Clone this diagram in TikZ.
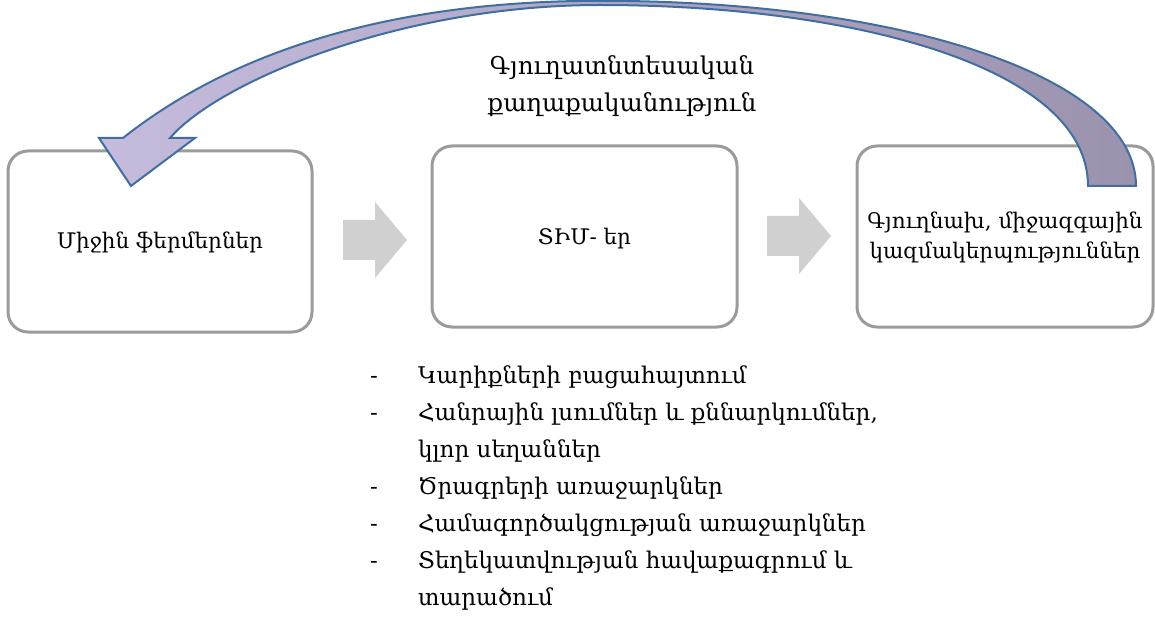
\documentclass[tikz,border=0pt]{standalone}
\usepackage{fontspec}
\setmainfont{DejaVu Serif}
\definecolor{boxgray}{RGB}{155,155,155}
\definecolor{arrgray}{RGB}{208,208,208}
\definecolor{bandline}{RGB}{65,110,160}
\definecolor{bandleft}{RGB}{197,187,220}
\definecolor{bandright}{RGB}{155,146,174}
\tikzset{
  stagebox/.style={draw=boxgray, line width=3pt, rounded corners=20pt, fill=white},
  flowarrow/.style={fill=arrgray, draw=none},
  lbl/.style={font=\fontsize{21.5}{30}\selectfont, align=center, inner sep=0pt},
  ttl/.style={font=\fontsize{24.5}{37}\selectfont, align=center, inner sep=0pt},
  item/.style={font=\fontsize{23}{28}\selectfont, anchor=base west, inner sep=0pt},
}
\begin{document}
\begin{tikzpicture}[x=1pt,y=-1pt]
\useasboundingbox (0,0) rectangle (1155,617);
% boxes
\draw[stagebox] (8,151) rectangle (312,332);
\draw[stagebox] (432,146) rectangle (737,327);
\draw[stagebox] (857,146) rectangle (1153,327);
\node[lbl] (b1) at (160,242) {Միջին ֆերմերներ};
\node[lbl] (b2) at (584.5,239) {ՏԻՄ- եր};
\node[lbl] (b3) at (1005,237) {Գյուղնախ, միջազգային\\կազմակերպություններ};
% gray block arrows
\fill[flowarrow] (343,220) -- (375,220) -- (375,202) -- (407,240) -- (375,278) -- (375,260) -- (343,260) -- cycle;
\fill[flowarrow] (767,216) -- (799,216) -- (799,198) -- (831,236) -- (799,274) -- (799,256) -- (767,256) -- cycle;
% title
\node[ttl] (title) at (622,86) {Գյուղատնտեսական\\քաղաքականություն};
% curved arrow
\draw[bandline, line width=2pt, line join=miter, left color=bandleft, right color=bandright]
  (1136,186) .. controls (1136,76) and (900,0.8) .. (600,0.8)
  .. controls (330,0.8) and (190,85) .. (123,138)
  -- (99,138) -- (131,186) -- (195,138) -- (170,138)
  .. controls (218,82) and (400,5) .. (600,5)
  .. controls (850,5) and (1088,66) .. (1088,186)
  -- cycle;
% list
\foreach \t [count=\i] in {Կարիքների բացահայտում, {Հանրային լսումներ և քննարկումներ,}, կլոր սեղաններ, Ծրագրերի առաջարկներ, Համագործակցության առաջարկներ, Տեղեկատվության հավաքագրում և, տարածում}{
  \node[item] (l\i) at (418,{376+37*(\i-1)+7}) {\t};
}
\foreach \i in {1,2,4,5,6}{
  \node[item] (d\i) at (370,{376+37*(\i-1)+7}) {-};
}
\end{tikzpicture}
\end{document}
